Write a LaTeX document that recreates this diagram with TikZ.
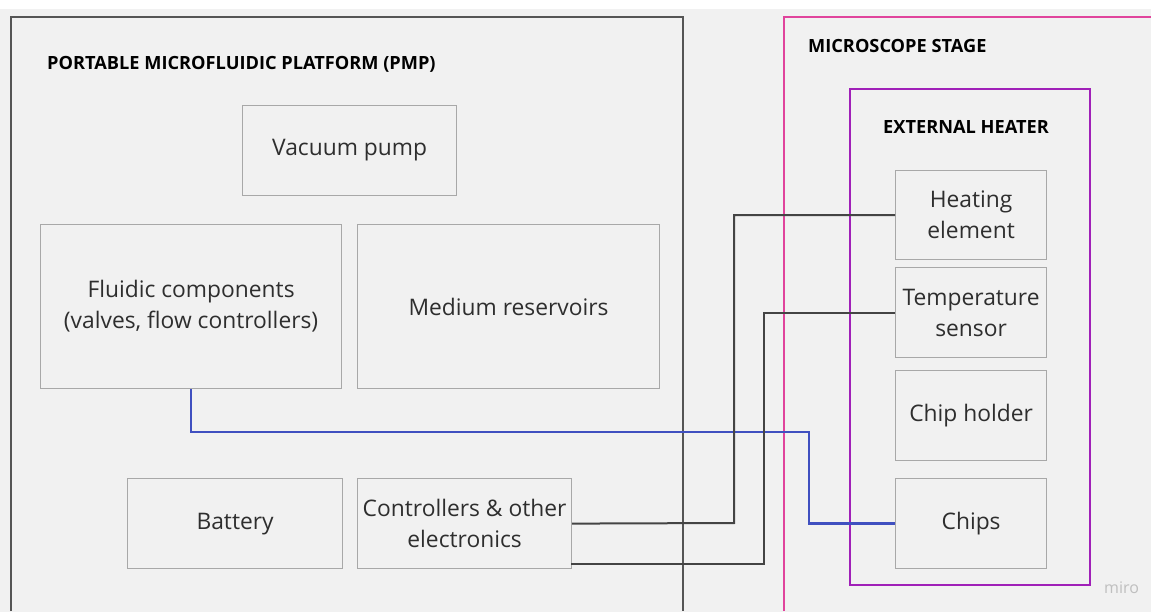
\documentclass[tikz,border=0pt]{standalone}
\usepackage{fontspec}
\setmainfont{Open Sans}
\definecolor{bg}{HTML}{F1F1F1}
\definecolor{boxgray}{HTML}{A8A8A8}
\definecolor{txt}{HTML}{2E2E2E}
\definecolor{pmpgray}{HTML}{555555}
\definecolor{pinkc}{HTML}{E0449C}
\definecolor{purplec}{HTML}{A020B8}
\definecolor{bluec}{HTML}{4050C0}
\definecolor{darkc}{HTML}{444444}
\begin{document}
\begin{tikzpicture}[x=1pt,y=-1pt,
  box/.style={draw=boxgray, line width=1.2pt, align=center, text=txt, inner sep=0pt,
    font=\fontsize{22.8}{31}\selectfont, anchor=north west},
  title/.style={anchor=west, text=black, inner sep=0pt, font=\fontsize{18.2}{20}\selectfont\bfseries},
  darkline/.style={draw=darkc, line width=2pt},
  blueline/.style={draw=bluec, line width=2.4pt}]
\useasboundingbox (0,0) rectangle (1151,612);
\fill[white] (0,0) rectangle (1151,612);
\fill[bg] (0,9) rectangle (1151,612);
% containers
\draw[pmpgray, line width=1.2pt] (11,611) -- (11,17) -- (683,17) -- (683,611);
\draw[pinkc, line width=1.2pt] (784,611) -- (784,17) -- (1151,17);
\draw[purplec, line width=2.4pt] (850,89) rectangle (1090,585);
\node[title] (tpmp) at (47,64) {PORTABLE MICROFLUIDIC PLATFORM (PMP)};
\node[title] (tms) at (808,46) {MICROSCOPE STAGE};
\node[title] (theat) at (883,127) {EXTERNAL HEATER};
% boxes
\node[box, minimum width=214pt, minimum height=90pt] (vac) at (242,105) {Vacuum pump};
\node[box, minimum width=301pt, minimum height=164pt] (fluid) at (40,224) {Fluidic components\\(valves, flow controllers)};
\node[box, minimum width=302pt, minimum height=164pt] (med) at (357,224) {Medium reservoirs};
\node[box, minimum width=215pt, minimum height=90pt] (bat) at (127,478) {Battery};
\node[box, minimum width=214pt, minimum height=90pt] (ctrl) at (357,478) {Controllers \& other\\electronics};
\node[box, minimum width=151pt, minimum height=89pt] (heat) at (895,170) {Heating\\element};
\node[box, minimum width=151pt, minimum height=90pt] (temp) at (895,267) {Temperature\\sensor};
\node[box, minimum width=151pt, minimum height=90pt] (holder) at (895,370) {Chip holder};
\node[box, minimum width=151pt, minimum height=90pt] (chips) at (895,478) {Chips};
% connectors
\coordinate (b1) at (809,432);
\draw[blueline] (fluid.south) |- (b1) |- (chips.west);
\coordinate (d1) at (734,523);
\draw[darkline] (ctrl.east) -- (d1) |- (heat.west);
\coordinate (d2a) at (571,564);
\coordinate (d2) at (764,564);
\draw[darkline] (d2a) -- (d2) |- (temp.west);
\node[anchor=west, text=black!25, inner sep=0pt, font=\fontsize{16}{18}\selectfont] (miro) at (1104,588) {miro};
\end{tikzpicture}
\end{document}
